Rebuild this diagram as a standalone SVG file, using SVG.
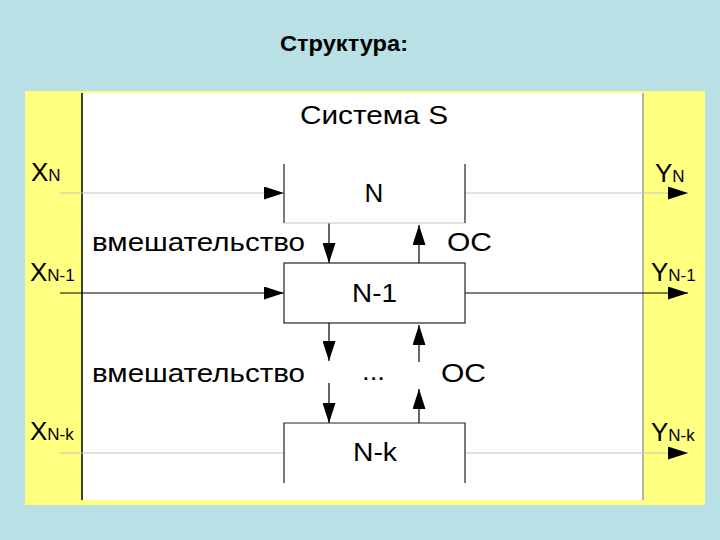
<svg xmlns="http://www.w3.org/2000/svg" width="720" height="540" viewBox="0 0 720 540">
<defs>
<marker id="ah" markerUnits="userSpaceOnUse" markerWidth="20" markerHeight="13" refX="20" refY="6.5" orient="auto">
<path d="M0,0 L20,6.5 L0,13 z" fill="#000"/>
</marker>
<style>
text{font-family:"Liberation Sans",Arial,sans-serif;fill:#000}
.lbl{font-size:26px}
.sub{font-size:17px}
.gl{stroke:#c4c4c4;stroke-width:1.2;fill:none}
.bl{stroke:#000;stroke-width:1.2;fill:none}
.bx{stroke:#222;stroke-width:1.2;fill:#fff}
</style>
</defs>
<rect width="720" height="540" fill="#b9e0e4"/>
<text x="280" y="51" font-size="22" font-weight="bold" textLength="128" lengthAdjust="spacingAndGlyphs">Структура:</text>
<g id="system">
<rect x="25" y="91" width="680" height="414" fill="#ffff80"/>
<rect x="82" y="93" width="561" height="407" fill="#fff"/>
<line x1="82" y1="93" x2="82" y2="500" stroke="#000" stroke-width="1.5"/>
<line x1="643" y1="93" x2="643" y2="500" stroke="#888" stroke-width="1.2"/>
<text x="374" y="124" class="lbl" text-anchor="middle" textLength="148" lengthAdjust="spacingAndGlyphs">Система S</text>
</g>
<g id="connectors">
<line class="gl" x1="60" y1="193" x2="284" y2="193" marker-end="url(#ah)"/>
<line class="gl" x1="465" y1="193" x2="688" y2="193" marker-end="url(#ah)"/>
<line class="bl" x1="60" y1="293" x2="284" y2="293" marker-end="url(#ah)"/>
<line class="bl" x1="465" y1="293" x2="688" y2="293" marker-end="url(#ah)"/>
<line class="gl" x1="60" y1="453" x2="284" y2="453"/>
<line class="gl" x1="465" y1="453" x2="688" y2="453" marker-end="url(#ah)"/>
<line class="bl" x1="329" y1="223" x2="329" y2="263" marker-end="url(#ah)"/>
<line class="bl" x1="419" y1="263" x2="419" y2="225" stroke="#555" marker-end="url(#ah)"/>
<line class="bl" x1="329" y1="323" x2="329" y2="361" marker-end="url(#ah)"/>
<line class="bl" x1="329" y1="383" x2="329" y2="423" marker-end="url(#ah)"/>
<line class="bl" x1="419" y1="423" x2="419" y2="389" stroke="#555" marker-end="url(#ah)"/>
<line class="bl" x1="419" y1="362" x2="419" y2="325" stroke="#555" marker-end="url(#ah)"/>
</g>
<g id="node-N">
<line class="gl" x1="284" y1="223" x2="465" y2="223"/>
<path d="M284,164 V223 M465,164 V223" stroke="#222" stroke-width="1.2" fill="none"/>
<text x="374" y="202" class="lbl" text-anchor="middle">N</text>
</g>
<g id="node-N-1">
<rect class="bx" x="284" y="263" width="181" height="60"/>
<text x="374.5" y="302" class="lbl" text-anchor="middle" textLength="45" lengthAdjust="spacingAndGlyphs">N-1</text>
</g>
<g id="node-N-k">
<path d="M284,483 V423 H465 V483" stroke="#222" stroke-width="1.2" fill="none"/>
<text x="375" y="461" class="lbl" text-anchor="middle" textLength="44" lengthAdjust="spacingAndGlyphs">N-k</text>
</g>
<g id="labels">
<text x="92" y="251" class="lbl" textLength="213" lengthAdjust="spacingAndGlyphs">вмешательство</text>
<text x="447" y="251" class="lbl" textLength="45" lengthAdjust="spacingAndGlyphs">ОС</text>
<text x="92" y="382" class="lbl" textLength="213" lengthAdjust="spacingAndGlyphs">вмешательство</text>
<text x="362" y="380" class="lbl" textLength="23" lengthAdjust="spacingAndGlyphs">...</text>
<text x="441" y="382" class="lbl" textLength="45" lengthAdjust="spacingAndGlyphs">ОС</text>
<text x="31" y="181" font-size="26">X<tspan class="sub">N</tspan></text>
<text x="30" y="281" font-size="26">X<tspan class="sub">N-1</tspan></text>
<text x="30" y="440" font-size="26">X<tspan class="sub">N-k</tspan></text>
<text x="655" y="182" font-size="26">Y<tspan class="sub">N</tspan></text>
<text x="651" y="281" font-size="26">Y<tspan class="sub">N-1</tspan></text>
<text x="651" y="441" font-size="26">Y<tspan class="sub">N-k</tspan></text>
</g>
</svg>
